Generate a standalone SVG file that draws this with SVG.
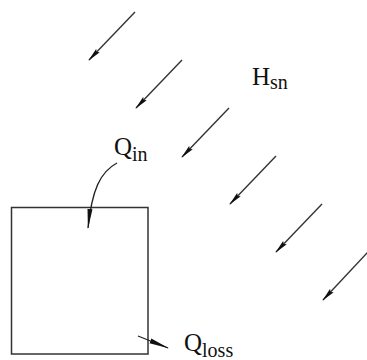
<svg xmlns="http://www.w3.org/2000/svg" width="367" height="360" viewBox="0 0 367 360">
<defs>
<style>
.ray{stroke:#333;stroke-width:1.4;fill:none;marker-end:url(#ah)}
.t{font-family:"Liberation Serif","Times New Roman",serif;fill:#111}
.main{font-size:25px}
.sub{font-size:20px}
</style>
<marker id="ah" viewBox="0 0 14 6" refX="13" refY="3" markerWidth="14" markerHeight="6" markerUnits="userSpaceOnUse" orient="auto">
<path d="M0,0.5 L14,3 L0,5.5 L2,3 Z" fill="#111"/>
</marker>
<marker id="ah2" viewBox="0 0 20 6" refX="19" refY="3" markerWidth="20" markerHeight="6" markerUnits="userSpaceOnUse" orient="auto">
<path d="M0,0.5 L20,3 L0,5.5 Z" fill="#111"/>
</marker>
</defs>
<g id="box">
<rect x="11.5" y="207.5" width="136.5" height="146.5" fill="none" stroke="#333" stroke-width="1.5"/>
</g>
<g id="connectors">
<line class="ray" x1="135" y1="12" x2="89" y2="60"/>
<line class="ray" x1="182" y1="60" x2="136" y2="108"/>
<line class="ray" x1="229" y1="108" x2="182" y2="157"/>
<line class="ray" x1="276" y1="156" x2="230" y2="204"/>
<line class="ray" x1="322" y1="204" x2="276" y2="252"/>
<line class="ray" x1="368" y1="252" x2="323" y2="300"/>
<path d="M117,163 C100,172 92,190 88,228" fill="none" stroke="#222" stroke-width="1.3" marker-end="url(#ah2)"/>
<path d="M138,336 L168,348" fill="none" stroke="#222" stroke-width="1.3" marker-end="url(#ah2)"/>
</g>
<g id="label-hsn">
<text class="t" x="252" y="85"><tspan class="main">H</tspan><tspan class="sub" dy="4">sn</tspan></text>
</g>
<g id="label-qin">
<text class="t" x="114" y="155"><tspan class="main">Q</tspan><tspan class="sub" dy="6">in</tspan></text>
</g>
<g id="label-qloss">
<text class="t" x="184" y="351"><tspan class="main">Q</tspan><tspan class="sub" dy="6">loss</tspan></text>
</g>
</svg>
